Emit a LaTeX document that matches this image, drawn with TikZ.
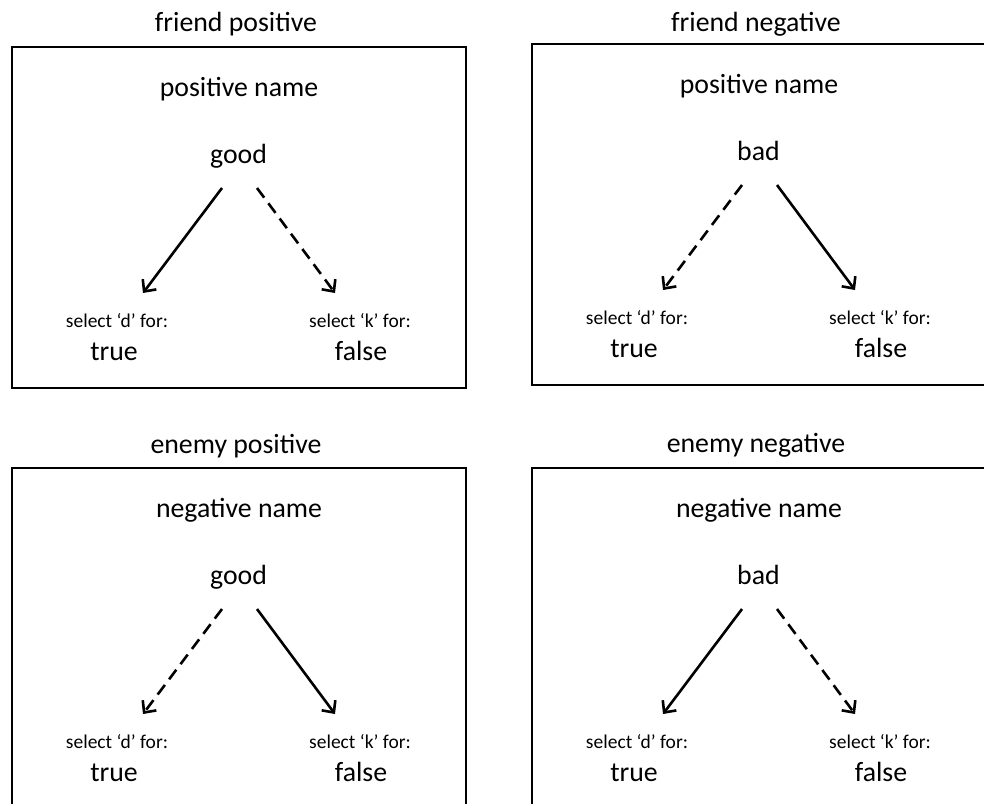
\documentclass[tikz,border=0pt]{standalone}
\usepackage{fontspec}
\setmainfont{Carlito}
\usetikzlibrary{arrows.meta}
\tikzset{
  txt/.style={anchor=base, inner sep=0pt},
  big/.style={txt, font=\fontsize{27.8}{30}\selectfont},
  small/.style={txt, font=\fontsize{19.5}{22}\selectfont},
  frame/.style={draw, line width=1.3pt},
  solidarrow/.style={line width=2.6pt, -{Straight Barb[length=9pt,width=17pt]}},
  dasharrow/.style={solidarrow, dash pattern=on 12pt off 7pt},
}
% #1 prefix, #2 dx, #3 dy, #4 title dy, #5 title, #6 name, #7 word, #8 left style, #9 right style
\newcommand\drawpanel[9]{%
  \begin{scope}[shift={(#2,#3)}]
    \node[big] (#1t) at (236,{31.7+#4}) {#5};
    \coordinate (#1a) at (12,47);
    \coordinate (#1b) at (466,388);
    \draw[frame] (#1a) rectangle (#1b);
    \node[big] (#1n) at (239,96.7) {#6};
    \node[big] (#1w) at (238.5,163) {#7};
    \node[small] (#1sd) at (117,327) {select ‘d’ for:};
    \node[small] (#1sk) at (360,327) {select ‘k’ for:};
    \node[big] (#1tr) at (114,360) {true};
    \node[big] (#1fa) at (361,360) {false};
    \coordinate (#1l0) at (222,188);
    \coordinate (#1l1) at (143,293);
    \coordinate (#1r0) at (257,188);
    \coordinate (#1r1) at (335,293);
    \draw[#8] (#1l0) -- (#1l1);
    \draw[#9] (#1r0) -- (#1r1);
  \end{scope}}
\begin{document}
\begin{tikzpicture}[x=1pt,y=-1pt]
  \useasboundingbox (0,0) rectangle (984,803);
  \clip (0,0) rectangle (984,803);
  \drawpanel{A}{0}{0}{0}{friend positive}{positive name}{good}{solidarrow}{dasharrow}
  \drawpanel{B}{520}{-3}{3}{friend negative}{positive name}{bad}{dasharrow}{solidarrow}
  \drawpanel{C}{0}{421}{1}{enemy positive}{negative name}{good}{dasharrow}{solidarrow}
  \drawpanel{D}{520}{421}{0}{enemy negative}{negative name}{bad}{solidarrow}{dasharrow}
\end{tikzpicture}
\end{document}
